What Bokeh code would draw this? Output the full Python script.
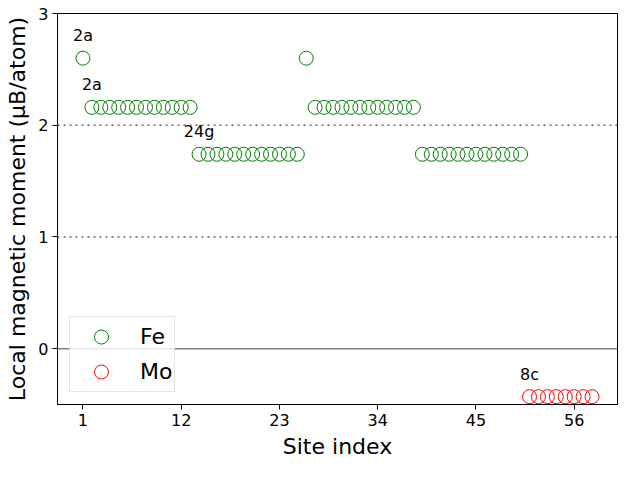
import numpy as np
from bokeh.plotting import figure
from bokeh.models import FixedTicker, Span, ColumnDataSource
from bokeh.core.properties import value
from bokeh.embed import file_html
from bokeh.resources import INLINE

# ---- data ----
fe_sites = list(range(1, 51))
fe_moments = [2.60,
              2.16, 2.16, 2.16, 2.16, 2.16, 2.16, 2.16, 2.16, 2.16, 2.16, 2.16, 2.16,
              1.74, 1.74, 1.74, 1.74, 1.74, 1.74, 1.74, 1.74, 1.74, 1.74, 1.74, 1.74,
              2.60,
              2.16, 2.16, 2.16, 2.16, 2.16, 2.16, 2.16, 2.16, 2.16, 2.16, 2.16, 2.16,
              1.74, 1.74, 1.74, 1.74, 1.74, 1.74, 1.74, 1.74, 1.74, 1.74, 1.74, 1.74]
mo_sites = list(range(51, 59))
mo_moments = [-0.43, -0.43, -0.43, -0.43, -0.43, -0.43, -0.43, -0.43]

ann_labels = ["2a", "2a", "24g", "8c"]
ann_sites = [1, 2, 14, 51]
ann_moments = [2.60, 2.16, 1.74, -0.43]
ann_offset = 0.2

x_ticks = [1, 12, 23, 34, 45, 56]
y_ticks = [0, 1, 2, 3]

FONT = "DejaVu Sans"

p = figure(width=624, height=464, x_range=(-1.85, 60.85), y_range=(-0.5, 3.0),
           output_backend="svg", toolbar_location=None,
           min_border_left=57, min_border_right=7, min_border_top=13, min_border_bottom=60)

p.background_fill_color = "white"
p.border_fill_color = "white"
p.outline_line_color = "black"
p.outline_line_width = 1
p.xgrid.visible = False
p.ygrid.visible = False

# reference lines
p.add_layout(Span(location=0, dimension="width", line_color="gray", line_width=1.5))
for yl in (1, 2):
    p.add_layout(Span(location=yl, dimension="width", line_color="#666666",
                      line_width=1.5, line_dash="2 4"))

p.scatter(fe_sites, fe_moments, marker="circle", size=14, fill_color=None,
          line_color="green", line_width=1, legend_label="Fe")
p.scatter(mo_sites, mo_moments, marker="circle", size=14, fill_color=None,
          line_color="red", line_width=1, legend_label="Mo")

src = ColumnDataSource(dict(x=ann_sites, y=list(np.array(ann_moments) + ann_offset), t=ann_labels))
p.text(x="x", y="y", text="t", source=src, text_align="center", text_baseline="alphabetic",
       text_font=value(FONT), text_font_size="16px", text_color="black")

for ax in (p.xaxis[0], p.yaxis[0]):
    ax.major_tick_in = 0
    ax.major_tick_out = 5
    ax.minor_tick_in = 0
    ax.minor_tick_out = 0
    ax.major_label_text_font = FONT
    ax.major_label_text_font_size = "16px"
    ax.major_label_text_color = "black"
    ax.axis_label_text_font = FONT
    ax.axis_label_text_font_size = "22px"
    ax.axis_label_text_font_style = "normal"
    ax.axis_label_text_color = "black"
    ax.axis_line_color = "black"
    ax.major_tick_line_color = "black"

p.xaxis.ticker = FixedTicker(ticks=x_ticks)
p.yaxis.ticker = FixedTicker(ticks=y_ticks)
p.xaxis.axis_label = "Site index"
p.yaxis.axis_label = "Local magnetic moment (μB/atom)"
p.xaxis.major_label_standoff = 4
p.yaxis.major_label_standoff = 4

lg = p.legend[0]
lg.location = "bottom_left"
lg.margin = 12
lg.padding = 2
lg.spacing = -5
lg.glyph_width = 58
lg.glyph_height = 35
lg.label_height = 30
lg.label_standoff = 10
lg.label_text_font = FONT
lg.label_text_font_size = "22px"
lg.label_text_color = "black"
lg.border_line_color = "#cccccc"
lg.border_line_width = 1
lg.background_fill_alpha = 0.8

open("out.html", "w").write(file_html(p, INLINE))
